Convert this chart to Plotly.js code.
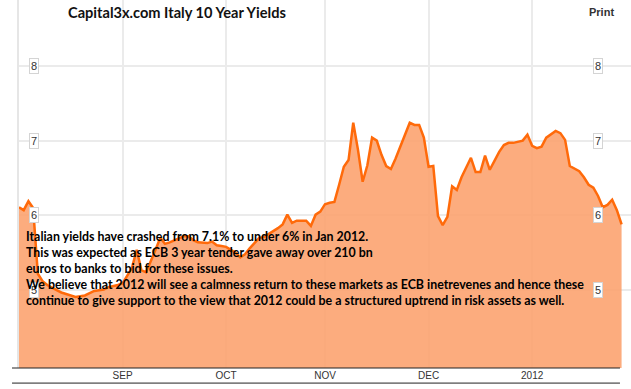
<!DOCTYPE html>
<html>
<head>
<meta charset="utf-8">
<script src="https://cdn.plot.ly/plotly-3.0.1.min.js"></script>
<style>html,body{margin:0;padding:0;background:#fff;}#chart{width:631px;height:389px;}</style>
</head>
<body>
<div id="chart"></div>
<script>
// Trading days (weekdays) Aug 2011 - Jan 2012
const dates = [
  '2011-08-02','2011-08-03','2011-08-04','2011-08-05',
  '2011-08-08','2011-08-09','2011-08-10','2011-08-11','2011-08-12',
  '2011-08-15','2011-08-16','2011-08-17','2011-08-18','2011-08-19',
  '2011-08-22','2011-08-23','2011-08-24','2011-08-25','2011-08-26',
  '2011-08-29','2011-08-30','2011-08-31',
  '2011-09-01','2011-09-02',
  '2011-09-05','2011-09-06','2011-09-07','2011-09-08','2011-09-09',
  '2011-09-12','2011-09-13','2011-09-14','2011-09-15','2011-09-16',
  '2011-09-19','2011-09-20','2011-09-21','2011-09-22','2011-09-23',
  '2011-09-26','2011-09-27','2011-09-28','2011-09-29','2011-09-30',
  '2011-10-03','2011-10-04','2011-10-05','2011-10-06','2011-10-07',
  '2011-10-10','2011-10-11','2011-10-12','2011-10-13','2011-10-14',
  '2011-10-17','2011-10-18','2011-10-19','2011-10-20','2011-10-21',
  '2011-10-24','2011-10-25','2011-10-26','2011-10-27','2011-10-28',
  '2011-10-31',
  '2011-11-01','2011-11-02','2011-11-03','2011-11-04',
  '2011-11-07','2011-11-08','2011-11-09','2011-11-10','2011-11-11',
  '2011-11-14','2011-11-15','2011-11-16','2011-11-17','2011-11-18',
  '2011-11-21','2011-11-22','2011-11-23','2011-11-24','2011-11-25',
  '2011-11-28','2011-11-29','2011-11-30',
  '2011-12-01','2011-12-02',
  '2011-12-05','2011-12-06','2011-12-07','2011-12-08','2011-12-09',
  '2011-12-12','2011-12-13','2011-12-14','2011-12-15','2011-12-16',
  '2011-12-19','2011-12-20','2011-12-21','2011-12-22','2011-12-23',
  '2011-12-26','2011-12-27','2011-12-28','2011-12-29','2011-12-30',
  '2012-01-02','2012-01-03','2012-01-04','2012-01-05','2012-01-06',
  '2012-01-09','2012-01-10','2012-01-11','2012-01-12','2012-01-13',
  '2012-01-16','2012-01-17','2012-01-18','2012-01-19','2012-01-20',
  '2012-01-23','2012-01-24','2012-01-25','2012-01-26','2012-01-27'
];

const yields = [
  6.11, 6.07, 6.19, 6.10,
  5.22, 5.12, 5.07, 5.03, 5.00,
  4.97, 4.95, 4.92, 4.91, 4.92,
  4.93, 4.96, 4.99, 5.00, 5.01,
  5.04, 5.05, 5.07,
  5.09, 5.19,
  5.30, 5.54, 5.27, 5.24, 5.38,
  5.54, 5.70, 5.62, 5.64, 5.67,
  5.70, 5.72, 5.72, 5.67, 5.64,
  5.63, 5.63, 5.65, 5.60, 5.59,
  5.58, 5.54, 5.50, 5.44, 5.48,
  5.56, 5.63, 5.70, 5.71, 5.75,
  5.78, 5.83, 5.88, 6.01, 5.90,
  5.93, 5.93, 5.93, 5.86, 6.01,
  6.05,
  6.15, 6.17, 6.18, 6.41,
  6.65, 6.74, 7.24, 6.88, 6.45,
  6.67, 7.04, 7.00, 6.81, 6.66,
  6.62, 6.76, 6.92, 7.09, 7.24,
  7.21, 7.21, 7.04,
  6.65, 6.66,
  5.99, 5.87, 5.98, 6.39, 6.34,
  6.51, 6.63, 6.77, 6.58, 6.58,
  6.80, 6.61, 6.73, 6.85, 6.94,
  6.97, 6.97, 6.98, 7.00, 7.08,
  6.93, 6.90, 6.92, 7.04, 7.09,
  7.13, 7.10, 7.01, 6.66, 6.63,
  6.59, 6.51, 6.41, 6.37, 6.26,
  6.11, 6.14, 6.21, 6.07, 5.88
];

const monthTicks = ['2011-09-01','2011-10-03','2011-11-01','2011-12-01','2012-01-02'];
const monthLabels = ['SEP','OCT','NOV','DEC','2012'];
const yTicks = [5, 6, 7, 8];

const titleText = 'Capital3x.com Italy 10 Year Yields';
const noteLines = [
  'Italian yields have crashed from 7.1% to under 6% in Jan 2012.',
  'This was expected as ECB 3 year tender gave away over 210 bn',
  'euros to banks to bid for these issues.',
  'We believe that 2012 will see a calmness return to these markets as ECB inetrevenes and hence these',
  'continue to give support to the view that 2012 could be a structured uptrend in risk assets as well.'
];

const trace = {
  x: dates, y: yields, type: 'scatter', mode: 'lines',
  line: {color: '#ff6a0a', width: 2.5},
  fill: 'tozeroy', fillcolor: 'rgba(252,160,108,0.88)',
  hoverinfo: 'skip'
};

const annotations = [];
yTicks.forEach(v => {
  [0.0237, 0.946].forEach(px => {
    annotations.push({
      xref: 'paper', yref: 'y', x: px, y: v, text: String(v), showarrow: false,
      xanchor: 'center', yanchor: 'middle',
      font: {family: 'Liberation Sans, Arial', size: 11, color: '#333'},
      bgcolor: '#ffffff', bordercolor: '#d4d4d4', borderwidth: 1, borderpad: 1
    });
  });
});
annotations.push({
  xref: 'paper', yref: 'paper', x: 0.0082, y: 0.384, xanchor: 'left', yanchor: 'top',
  align: 'left', showarrow: false, text: noteLines.join('<br>'),
  font: {family: 'Lato', size: 12.4, color: '#000', weight: 'bold'}
});
annotations.push({
  xref: 'paper', yref: 'paper', x: 0.951, y: 0.968, xanchor: 'center', yanchor: 'middle',
  showarrow: false, text: '<b>Print</b>',
  font: {family: 'Liberation Sans, Arial', size: 11, color: '#333'}
});

const layout = {
  width: 631, height: 389,
  margin: {l: 19, r: 0, t: 0, b: 21},
  paper_bgcolor: '#fff', plot_bgcolor: '#fff',
  showlegend: false,
  title: {
    text: '<b>' + titleText + '</b>',
    xref: 'container', yref: 'container', x: 68/631, xanchor: 'left',
    y: 1 - 13/389, yanchor: 'middle',
    font: {family: 'Lato', size: 14.6, color: '#111'}
  },
  xaxis: {
    type: 'date',
    range: ['2011-08-02', '2012-01-31'],
    rangebreaks: [{bounds: ['sat', 'mon']}],
    tickvals: monthTicks, ticktext: monthLabels,
    showgrid: true, gridcolor: '#ebebeb', gridwidth: 2,
    ticks: '', showline: false, zeroline: false,
    tickfont: {family: 'Liberation Sans, Arial', size: 10, color: '#333'}
  },
  yaxis: {
    range: [3.96, 8.88],
    tickvals: yTicks, showticklabels: false,
    showgrid: true, gridcolor: '#ebebeb', gridwidth: 2,
    zeroline: false, ticks: '',
    showline: true, linecolor: '#e6e6e6', linewidth: 2
  },
  shapes: [
    {type: 'line', xref: 'paper', yref: 'paper', x0: -0.0114, x1: 0.982, y0: 0, y1: 0,
     line: {color: '#222', width: 1}},
    {type: 'line', xref: 'paper', yref: 'paper', x0: -0.0114, x1: 0.982, y0: -0.041, y1: -0.041,
     line: {color: '#222', width: 1}}
  ],
  annotations: annotations
};

Plotly.newPlot('chart', [trace], layout, {displayModeBar: false, staticPlot: true});
</script>
</body>
</html>
